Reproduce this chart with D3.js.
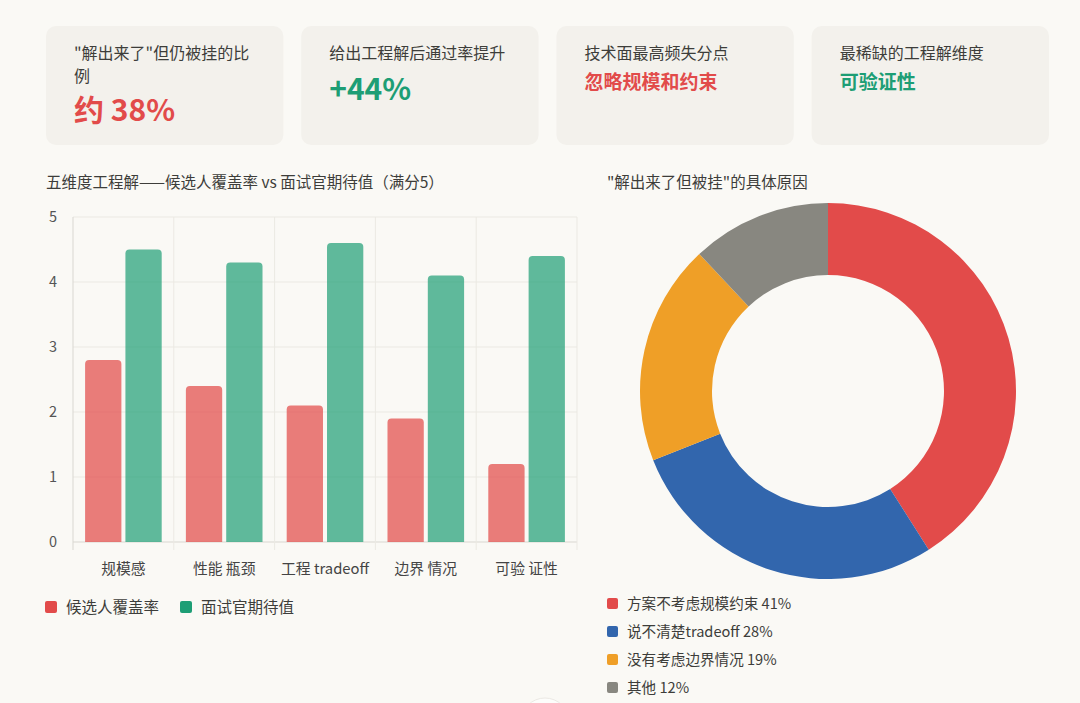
<!DOCTYPE html>
<html><head><meta charset="utf-8">
<script src="https://cdn.jsdelivr.net/npm/d3@7/dist/d3.min.js"></script>
<style>
html,body{margin:0;padding:0;background:#faf9f5;}
svg{display:block;font-family:"Noto Sans CJK SC","Noto Sans",sans-serif;}
</style></head>
<body>
<svg id="c" width="1080" height="703"></svg>
<script>
// ---- data ----
const cardLabels = [["\"解出来了\"但仍被挂的比","例"],["给出工程解后通过率提升"],["技术面最高频失分点"],["最稀缺的工程解维度"]];
const cardValues = ["约 38%","+44%","忽略规模和约束","可验证性"];
const cardValueColors = ["#e24b4a","#1d9e75","#e24b4a","#1d9e75"];

const barTitle = "五维度工程解——候选人覆盖率 vs 面试官期待值（满分5）";
const categories = ["规模感","性能 瓶颈","工程 tradeoff","边界 情况","可验 证性"];
const coverage = [2.8, 2.4, 2.1, 1.9, 1.2];
const expectation = [4.5, 4.3, 4.6, 4.1, 4.4];
const seriesNames = ["候选人覆盖率","面试官期待值"];
const yTicks = [0,1,2,3,4,5];

const pieTitle = "\"解出来了但被挂\"的具体原因";
const pieLabels = ["方案不考虑规模约束 41%","说不清楚tradeoff 28%","没有考虑边界情况 19%","其他 12%"];
const pieValues = [41, 28, 19, 12];

// ---- styles ----
const svg = d3.select("#c");
const FONT = "'Noto Sans CJK SC','Noto Sans',sans-serif";
const seriesFill = ["rgba(226,75,74,0.72)","rgba(29,158,117,0.7)"];
const seriesLegend = ["#e24b4a","#1d9e75"];
const pieColors = ["#e24b4a","#3266ad","#ef9f27","#888780"];

// ---- cards ----
const cardX = d3.scaleBand().domain(d3.range(4)).range([46, 1049]).paddingInner(0.07).paddingOuter(0);
const cards = svg.append("g").selectAll("g").data(d3.range(4)).join("g")
  .attr("transform", i => `translate(${cardX(i)},26)`);
cards.append("rect").attr("width", cardX.bandwidth()).attr("height", 119).attr("rx", 10).attr("fill", "#f3f1ec");
cards.append("text").attr("x", 28).attr("y", 33).attr("font-size", 16).attr("fill", "#3d3d3a")
  .each(function(i){
    d3.select(this).selectAll("tspan").data(cardLabels[i]).join("tspan")
      .attr("x", 28).attr("dy", (d,k)=> k===0?0:23).text(d=>d);
  });
cards.append("text")
  .attr("x", 28)
  .attr("y", i => i===0 ? 95 : (i===1 ? 74 : 63))
  .attr("font-size", i => i<2 ? 30 : 19)
  .attr("font-weight", 700)
  .attr("fill", i => cardValueColors[i])
  .text(i => cardValues[i]);

// ---- bar chart ----
svg.append("text").attr("x", 46).attr("y", 188).attr("font-size", 15.5).attr("fill", "#3d3d3a").text(barTitle);

const plot = {l:73, r:577, t:217, b:542};
const y = d3.scaleLinear().domain([0,5]).range([plot.b, plot.t]);
const x0 = d3.scaleBand().domain(categories).range([plot.l, plot.r]).paddingInner(0).paddingOuter(0);

// grid
const g = svg.append("g");
g.selectAll("line.h").data(yTicks).join("line")
  .attr("x1", plot.l).attr("x2", plot.r).attr("y1", d=>y(d)).attr("y2", d=>y(d))
  .attr("stroke", d => d===0 ? "#d9d7d1" : "#ebe9e3").attr("stroke-width", 1);
const bounds = categories.map(c => x0(c)).concat([plot.r]);
g.selectAll("line.v").data(bounds).join("line")
  .attr("x1", d=>d).attr("x2", d=>d).attr("y1", plot.t).attr("y2", plot.b + 8)
  .attr("stroke", (d,i) => i===0 ? "#d9d7d1" : "#ebe9e3").attr("stroke-width", 1);

// y axis labels
const yAxis = d3.axisLeft(y).tickValues(yTicks).tickFormat(d3.format("d")).tickSize(0).tickPadding(16);
svg.append("g").attr("transform", `translate(${plot.l},0)`).call(yAxis)
  .call(a => a.select(".domain").remove())
  .call(a => a.selectAll("text").attr("font-size", 14.5).attr("fill", "#555").attr("font-family", FONT));

// x axis labels
const xAxis = d3.axisBottom(x0).tickSize(0).tickPadding(21);
svg.append("g").attr("transform", `translate(0,${plot.b})`).call(xAxis)
  .call(a => a.select(".domain").remove())
  .call(a => a.selectAll("text").attr("font-size", 14.8).attr("fill", "#444").attr("font-family", FONT));

// bars
function topRounded(x, yTop, w, h, r){
  r = Math.min(r, h, w/2);
  return `M${x},${yTop+h}V${yTop+r}Q${x},${yTop} ${x+r},${yTop}H${x+w-r}Q${x+w},${yTop} ${x+w},${yTop+r}V${yTop+h}Z`;
}
const series = [coverage, expectation];
const groupW = x0.bandwidth()*0.8;
const x1s = d3.scaleBand().domain([0,1]).range([0, groupW]).paddingInner(0.1).paddingOuter(0.05);
svg.append("g").selectAll("g").data(categories).join("g")
  .attr("transform", c => `translate(${x0(c) + x0.bandwidth()*0.1},0)`)
  .selectAll("path").data((c,i) => series.map((s,k)=>({k, v:s[i]}))).join("path")
  .attr("d", d => topRounded(x1s(d.k), y(d.v), x1s.bandwidth(), y(0)-y(d.v), 4))
  .attr("fill", d => seriesFill[d.k]);

// bar legend
const bl = svg.append("g").selectAll("g").data(seriesNames).join("g")
  .attr("transform", (d,i) => `translate(${i===0?45:180},601)`);
bl.append("rect").attr("width", 12).attr("height", 12).attr("rx", 2).attr("fill", (d,i)=>seriesLegend[i]);
bl.append("text").attr("x", 21).attr("y", 11.5).attr("font-size", 15.5).attr("fill", "#3d3d3a").text(d=>d);

// ---- donut ----
svg.append("text").attr("x", 607).attr("y", 188).attr("font-size", 15.5).attr("fill", "#3d3d3a").text(pieTitle);
const pie = d3.pie().sort(null).value(d=>d)(pieValues);
const arc = d3.arc().innerRadius(116).outerRadius(188);
svg.append("g").attr("transform", "translate(828,391)")
  .selectAll("path").data(pie).join("path")
  .attr("d", arc).attr("fill", (d,i)=>pieColors[i]);

const pl = svg.append("g").selectAll("g").data(pieLabels).join("g")
  .attr("transform", (d,i) => `translate(607,${598 + i*28})`);
pl.append("rect").attr("width", 11).attr("height", 11).attr("rx", 2).attr("fill", (d,i)=>pieColors[i]);
pl.append("text").attr("x", 20).attr("y", 11).attr("font-size", 14.6).attr("fill", "#3d3d3a").text(d=>d);

// faint bottom circle (UI artefact)
svg.append("circle").attr("cx", 545).attr("cy", 722).attr("r", 24).attr("fill", "#fdfdfb").attr("stroke", "#ebe9e4");
</script>
</body></html>
